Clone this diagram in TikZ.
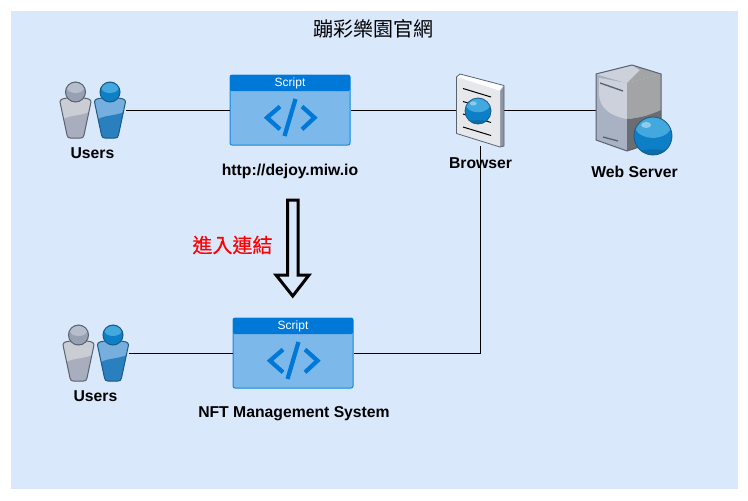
\documentclass[tikz,border=0pt]{standalone}
\usepackage{fontspec}
\setmainfont{Liberation Sans}
\newfontfamily\cjk{Noto Sans CJK TC}
\newfontfamily\cjkm[FakeBold=0.5]{Noto Sans CJK TC}
\definecolor{bgblue}{HTML}{DAE8FC}
\definecolor{hdrblue}{HTML}{0078D7}
\definecolor{boxblue}{HTML}{7DB8EA}
\definecolor{boxline}{HTML}{1488DE}
\definecolor{ballbase}{HTML}{0C7FC6}
\definecolor{balllight}{HTML}{42A8DE}
\definecolor{ballhigh}{HTML}{8FCBEA}
\definecolor{ballline}{HTML}{1B5B85}
\definecolor{figline}{HTML}{59626F}
\definecolor{grayupper}{HTML}{CBCDD4}
\definecolor{graylower}{HTML}{A8AEBE}
\definecolor{grayhead}{HTML}{98A1B3}
\definecolor{grayheadl}{HTML}{B6BDCB}
\definecolor{blueupper}{HTML}{76AEDD}
\definecolor{bluelower}{HTML}{2A80BE}
\definecolor{browserface}{HTML}{E6E8EC}
\definecolor{browserside}{HTML}{8E96A3}
\definecolor{srvleft}{HTML}{A9B2C2}
\definecolor{srvlight}{HTML}{CDD1DC}
\definecolor{srvright}{HTML}{A3A4A6}
\definecolor{srvdark}{HTML}{6A6D71}
\tikzset{
  conn/.style={draw=black,line width=0.75pt},
  lbl/.style={font=\fontsize{11.8pt}{14pt}\selectfont\bfseries,text=black,inner sep=0pt},
  globeicon/.pic={
    \fill[ballbase] (0,0) circle (10);
    \begin{scope}
      \clip (0,0) circle (10);
      \fill[balllight] (0,-5.5) ellipse (9.6 and 6.5);
      \fill[ballbase!85!black] (0,10.5) ellipse (10 and 3.5);
    \end{scope}
    \fill[ballhigh] (-3.6,-5.8) ellipse (2.6 and 1.6);
    \draw[ballline,line width=0.6pt] (0,0) circle (10);
  },
  scripticon/.pic={
    \node[name=-b,inner sep=0pt,minimum width=90pt,minimum height=52.5pt,rounded corners=1.5pt,fill=boxblue,draw=boxline,line width=0.75pt] at (60,35) {};
    \fill[hdrblue,rounded corners=1pt] (0,0) rectangle (120,16);
    \node[text=white,inner sep=0pt,font=\fontsize{9pt}{10pt}\selectfont] (-t) at (60,8.5) {Script};
    \draw[hdrblue,line width=3.2pt] (50,31.5) -- (37,42.7) -- (50,54.3);
    \draw[hdrblue,line width=3.2pt] (72,31.5) -- (84.5,42.7) -- (72,54.3);
    \draw[hdrblue,line width=3.2pt] (65.5,24) -- (54.5,61);
  },
}
% #1 position, #2 upper, #3 lower, #4 line, #5 head, #6 head light
\newcommand{\personfig}[6]{%
  \begin{scope}[shift={#1}]
    \begin{scope}
      \clip (-15.5,10) .. controls (-15.5,7) and (-12,6.5) .. (-8,6)
      -- (8,6) .. controls (12,6.5) and (15.5,7) .. (15.5,10)
      -- (8.5,43) .. controls (8,45.5) and (7,46) .. (5,46)
      -- (-5,46) .. controls (-7,46) and (-8,45.5) .. (-8.5,43) -- cycle;
      \fill[#2] (-16,5) rectangle (16,47);
      \fill[#3] (-16,30) .. controls (-8,22) and (5,25) .. (16,19) -- (16,47) -- (-16,47) -- cycle;
    \end{scope}
    \draw[#4,line width=0.75pt,line join=round] (-15.5,10) .. controls (-15.5,7) and (-12,6.5) .. (-8,6)
      -- (8,6) .. controls (12,6.5) and (15.5,7) .. (15.5,10)
      -- (8.5,43) .. controls (8,45.5) and (7,46) .. (5,46)
      -- (-5,46) .. controls (-7,46) and (-8,45.5) .. (-8.5,43) -- cycle;
    \fill[#5] (0,0) circle (10);
    \fill[#6] (0,-4) ellipse (8.5 and 5);
    \draw[#4,line width=0.75pt] (0,0) circle (10);
  \end{scope}}
\begin{document}
\begin{tikzpicture}[x=0.75pt,y=-0.75pt]
\useasboundingbox (0,0) rectangle (748,500);
\fill[bgblue] (10.5,10.5) rectangle (737.5,489);

% anchor nodes of the icons
\node[inner sep=0pt,minimum width=49.5pt,minimum height=30pt] (usersA) at (92.5,110) {};
\node[inner sep=0pt,minimum width=49.5pt,minimum height=30pt] (usersB) at (95.5,353) {};
\node[inner sep=0pt,minimum width=36pt,minimum height=54pt] (browser) at (480,110) {};
\node[inner sep=0pt,minimum width=48.75pt,minimum height=60pt] (server) at (628.5,110) {};
\pic (scriptA) at (230,75) {scripticon};
\pic (scriptB) at (233,318) {scripticon};

% connectors
\draw[conn] (usersA.east) -- (scriptA-b.west);
\draw[conn] (scriptA-b.east) -- (browser.west);
\draw[conn] (browser.east) -- (server.west);
\draw[conn] (usersB.east) -- (scriptB-b.west);
\draw[conn] (scriptB-b.east) -| (browser.south);

% users
\personfig{(75.5,92)}{grayupper}{graylower}{figline}{grayhead}{grayheadl}
\personfig{(110,92)}{blueupper}{bluelower}{ballline}{ballbase}{balllight}
\personfig{(78.5,335)}{grayupper}{graylower}{figline}{grayhead}{grayheadl}
\personfig{(113,335)}{blueupper}{bluelower}{ballline}{ballbase}{balllight}

% browser
\fill[white] (456.5,77) -- (460,74) -- (504,85.5) -- (500,91) -- cycle;
\fill[browserside] (500,91) -- (504,85.5) -- (504,146) -- (500,147) -- cycle;
\fill[browserface] (456.5,77) -- (500,91) -- (500,147) -- (456.5,133.5) -- cycle;
\draw[figline,line width=0.6pt,line join=round] (456.5,77) -- (460,74) -- (504,85.5) -- (504,146) -- (500,147) -- (456.5,133.5) -- cycle;
\draw[black,line width=0.75pt] (463,88.5) -- (491,97);
\draw[black,line width=0.75pt] (463,101.5) -- (491,110);
\draw[black,line width=0.75pt] (463,114) -- (491,122.5);
\draw[black,line width=0.75pt] (463,127) -- (491,135.5);
\pic[scale=1.3] at (478,111) {globeicon};

% server
\fill[srvleft] (596,74) -- (627,83) -- (627,151) -- (596,140) -- cycle;
\fill[srvlight] (596,74) -- (632,65) -- (661,74) -- (627,83) -- cycle;
\fill[srvlight] (599,78) -- (627,83) -- (627,119) .. controls (610,116) and (600,108) .. (599,95) -- cycle;
\fill[srvright] (627,83) -- (661,74) -- (661,110) .. controls (650,115) and (640,118) .. (627,119) -- cycle;
\fill[srvdark] (627,119) .. controls (640,118) and (650,115) .. (661,110) -- (661,140) -- (627,151) -- cycle;
\fill[srvright] (661,74) -- (632,65) -- (640,70) -- (627,83) -- cycle;
\draw[figline,line width=0.75pt,line join=round] (596,74) -- (632,65) -- (661,74) -- (661,140) -- (627,151) -- (596,140) -- cycle;
\draw[figline,line width=1pt] (600,83) -- (623,91);
\draw[figline,line width=1pt] (603,137) -- (618,141);
\pic[scale=1.9] at (653,136) {globeicon};

% block arrow
\draw[black,line width=2.25pt,miter limit=6,fill=bgblue] (287.5,200) -- (298,200) -- (298,275) -- (309,275) -- (292.75,296) -- (276,275) -- (287.5,275) -- cycle;

% labels
\node[font=\cjk\fontsize{15pt}{18pt}\selectfont,inner sep=0pt,text=black] (title) at (373.5,28.5) {蹦彩樂園官網};
\node[font=\cjkm\fontsize{15pt}{18pt}\selectfont,inner sep=0pt,text=red] (enter) at (232.5,245) {進入連結};
\node[lbl] (lu1) at (92.5,153.5) {Users};
\node[lbl] (lu2) at (95.5,396.5) {Users};
\node[lbl] (ls1) at (290,171) {http://dejoy.miw.io};
\node[lbl] (ls2) at (294,414) {NFT Management System};
\node[lbl] (lb) at (480.5,163) {Browser};
\node[lbl] (lw) at (634.5,172) {Web Server};
\end{tikzpicture}
\end{document}
